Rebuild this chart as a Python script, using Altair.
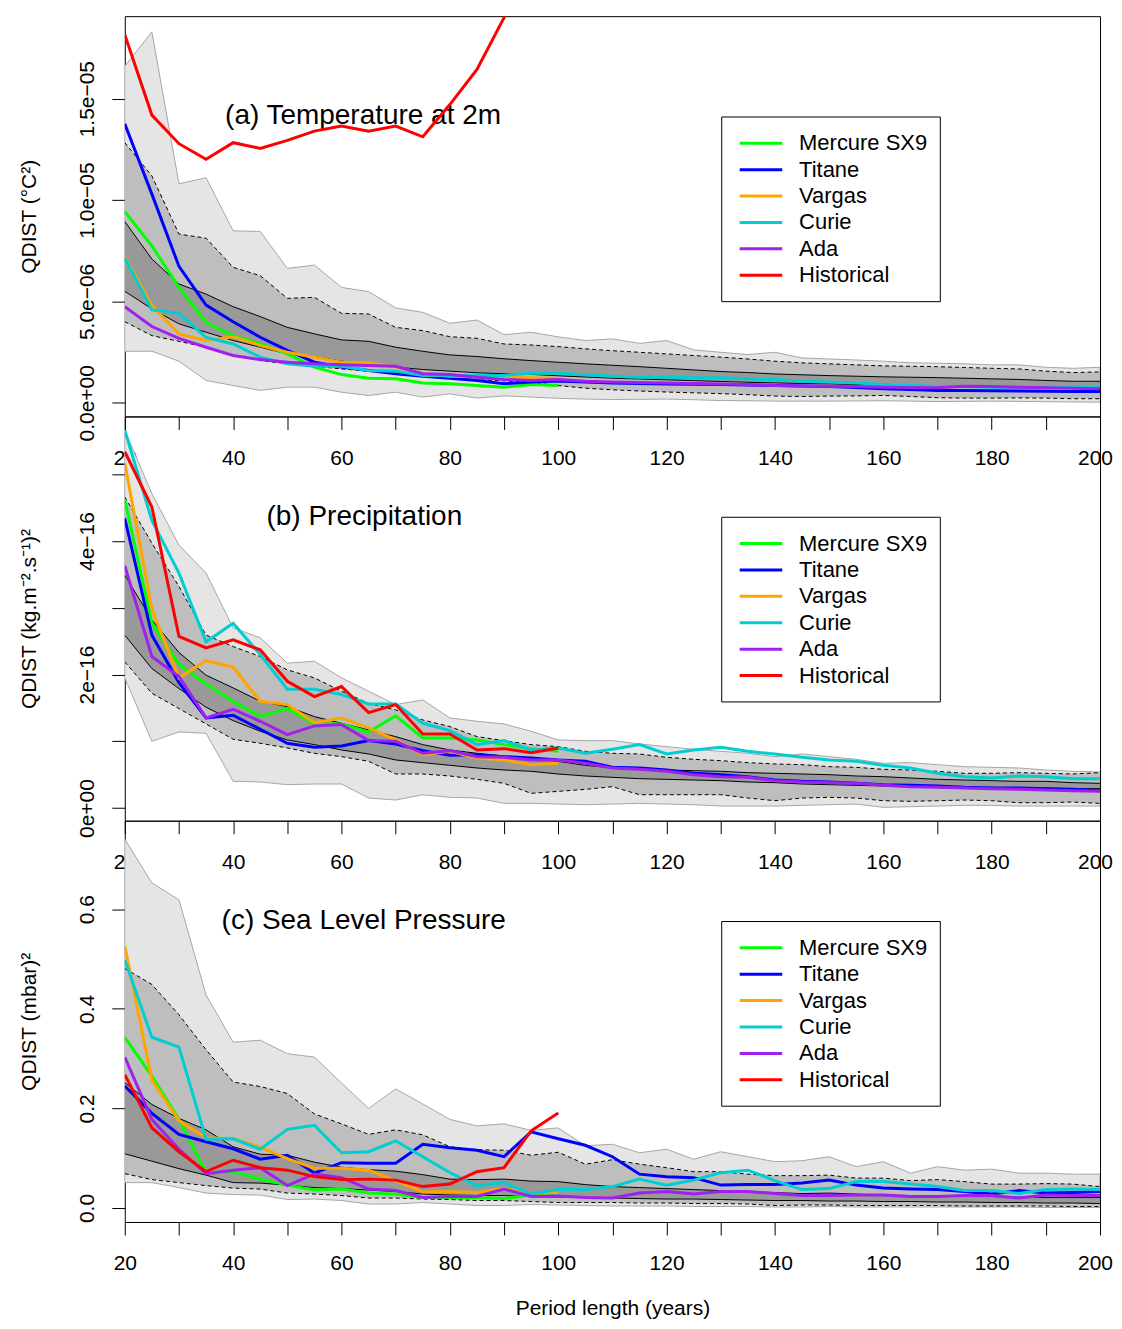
import altair as alt
import pandas as pd

YEARS = list(range(20, 201, 5))
MODELS = ["Mercure SX9", "Titane", "Vargas", "Curie", "Ada", "Historical"]
COLORS = ["#00FF00", "#0000FF", "#FFA500", "#00CED1", "#A020F0", "#FF0000"]

# ---------------- (a) Temperature at 2m  (values in 1e-6 °C²) ----------------
A_LMAX = [16.6, 18.3, 10.8, 11.1, 8.48, 8.45, 6.63, 6.79, 5.69, 5.48, 4.68, 4.46, 3.92, 4.08, 3.36, 3.48,
          3.25, 3.07, 3.15, 2.93, 3.07, 2.61, 2.49, 2.38, 2.49, 2.21, 2.16, 2.11, 2.05, 1.97, 1.95, 1.92,
          1.87, 1.87, 1.75, 1.70, 1.75]
A_DHI = [12.83, 11.19, 8.32, 8.12, 6.68, 6.27, 5.15, 5.2, 4.41, 4.38, 3.72, 3.56, 3.26, 3.18, 2.9, 2.85,
         2.77, 2.66, 2.57, 2.49, 2.41, 2.33, 2.25, 2.16, 2.05, 1.97, 1.92, 1.87, 1.82, 1.80, 1.78, 1.74,
         1.70, 1.67, 1.56, 1.49, 1.52]
A_DKHI = [8.94, 7.09, 5.86, 5.36, 4.74, 4.25, 3.72, 3.40, 3.10, 3.03, 2.74, 2.54, 2.36, 2.28, 2.17, 2.08,
          2.0, 1.92, 1.85, 1.78, 1.70, 1.62, 1.54, 1.49, 1.42, 1.38, 1.34, 1.31, 1.28, 1.26, 1.24, 1.21,
          1.18, 1.15, 1.10, 1.06, 1.06]
A_DKLO = [5.5, 4.63, 3.89, 3.48, 3.07, 2.74, 2.41, 2.28, 2.05, 1.92, 1.76, 1.64, 1.56, 1.48, 1.43, 1.40,
          1.33, 1.27, 1.21, 1.17, 1.13, 1.09, 1.05, 1.01, 0.98, 0.95, 0.93, 0.90, 0.88, 0.86, 0.84, 0.81,
          0.79, 0.77, 0.75, 0.74, 0.74]
A_DLO = [4.0, 3.31, 3.03, 2.74, 2.33, 2.08, 1.92, 1.80, 1.67, 1.56, 1.46, 1.35, 1.21, 1.13, 1.08, 1.0,
         0.85, 0.72, 0.64, 0.58, 0.53, 0.49, 0.45, 0.40, 0.33, 0.31, 0.33, 0.34, 0.36, 0.31, 0.25, 0.23,
         0.23, 0.24, 0.23, 0.2, 0.2]
A_LMIN = [2.54, 2.54, 2.05, 1.10, 0.85, 0.61, 0.77, 0.77, 0.52, 0.36, 0.52, 0.28, 0.44, 0.23, 0.34, 0.28,
          0.22, 0.18, 0.16, 0.17, 0.18, 0.15, 0.11, 0.10, 0.08, 0.08, 0.08, 0.09, 0.10, 0.08, 0.06, 0.07,
          0.08, 0.07, 0.05, 0.04, 0.03]
A_MERCURE = [9.43, 7.74, 5.69, 3.97, 3.31, 2.9, 2.41, 1.76, 1.39, 1.21, 1.18, 0.97, 0.94, 0.85, 0.77, 0.90, 0.85]
A_TITANE = [13.76, 10.29, 6.73, 4.82, 4.0, 3.23, 2.58, 2.0, 1.76, 1.59, 1.43, 1.31, 1.21, 1.10, 0.94, 1.02,
            1.07, 1.02, 0.98, 0.95, 0.93, 0.91, 0.90, 0.88, 0.85, 0.83, 0.80, 0.75, 0.69, 0.65, 0.61, 0.60,
            0.59, 0.58, 0.57, 0.56, 0.56]
A_VARGAS = [7.2, 4.79, 3.40, 3.07, 3.26, 2.82, 2.49, 2.25, 2.0, 1.97, 1.76, 1.43, 1.31, 1.31, 1.26, 1.23, 1.21]
A_CURIE = [7.14, 4.58, 4.41, 3.23, 2.9, 2.25, 1.92, 1.80, 1.80, 1.59, 1.56, 1.35, 1.35, 1.35, 1.35, 1.46,
           1.46, 1.38, 1.31, 1.26, 1.26, 1.23, 1.23, 1.18, 1.15, 1.06, 1.02, 0.97, 0.90, 0.85, 0.80, 0.80,
           0.77, 0.77, 0.77, 0.77, 0.77]
A_ADA = [4.74, 3.76, 3.18, 2.74, 2.33, 2.13, 2.0, 1.92, 1.87, 1.84, 1.80, 1.43, 1.39, 1.26, 1.15, 1.10,
         1.15, 1.06, 1.02, 1.0, 0.98, 0.95, 0.93, 0.90, 0.85, 0.83, 0.82, 0.80, 0.77, 0.75, 0.74, 0.82,
         0.80, 0.77, 0.74, 0.72, 0.69]
A_HIST = [18.16, 14.19, 12.78, 12.01, 12.83, 12.55, 12.94, 13.40, 13.65, 13.40, 13.65, 13.12, 14.71, 16.44,
          19.0, 22.0, 25.0]

# ---------------- (b) Precipitation  (values in 1e-16 (kg.m-2.s-1)²) ----------------
B_LMAX = [5.66, 4.71, 3.94, 3.52, 2.7, 2.55, 2.17, 2.2, 1.95, 1.75, 1.55, 1.62, 1.35, 1.30, 1.26, 1.15,
          1.02, 1.01, 1.01, 0.96, 0.92, 0.88, 0.85, 0.82, 0.77, 0.81, 0.77, 0.73, 0.67, 0.68, 0.65, 0.62,
          0.61, 0.60, 0.57, 0.55, 0.54]
B_DHI = [4.66, 3.97, 3.32, 2.59, 2.42, 2.27, 2.07, 1.95, 1.75, 1.57, 1.47, 1.32, 1.22, 1.07, 1.01, 0.95,
         0.92, 0.85, 0.82, 0.81, 0.76, 0.73, 0.71, 0.68, 0.66, 0.65, 0.62, 0.61, 0.58, 0.57, 0.55, 0.52,
         0.52, 0.53, 0.52, 0.51, 0.53]
B_DKHI = [3.49, 2.82, 2.33, 1.99, 1.80, 1.60, 1.52, 1.37, 1.27, 1.17, 1.07, 0.95, 0.87, 0.82, 0.78, 0.75,
          0.70, 0.64, 0.60, 0.58, 0.57, 0.56, 0.55, 0.53, 0.52, 0.51, 0.50, 0.48, 0.47, 0.45, 0.43, 0.42,
          0.41, 0.40, 0.40, 0.38, 0.37]
B_DKLO = [2.59, 2.09, 1.79, 1.51, 1.31, 1.15, 1.02, 0.95, 0.87, 0.81, 0.72, 0.68, 0.64, 0.60, 0.57, 0.55,
          0.51, 0.48, 0.46, 0.44, 0.43, 0.42, 0.41, 0.39, 0.38, 0.36, 0.35, 0.34, 0.33, 0.32, 0.32, 0.31,
          0.31, 0.30, 0.30, 0.29, 0.29]
B_DLO = [2.19, 1.72, 1.49, 1.26, 1.03, 0.97, 0.90, 0.82, 0.77, 0.70, 0.51, 0.51, 0.48, 0.43, 0.37, 0.22,
         0.25, 0.28, 0.32, 0.20, 0.20, 0.20, 0.20, 0.15, 0.11, 0.15, 0.16, 0.15, 0.11, 0.10, 0.11, 0.12,
         0.11, 0.08, 0.08, 0.09, 0.07]
B_LMIN = [1.95, 1.0, 1.14, 1.12, 0.40, 0.39, 0.35, 0.36, 0.36, 0.15, 0.12, 0.2, 0.16, 0.15, 0.07, 0.07,
          0.06, 0.05, 0.06, 0.07, 0.06, 0.05, 0.03, 0.03, 0.03, 0.04, 0.05, 0.06, 0.01, 0.02, 0.03, 0.04,
          0.04, 0.03, 0.03, 0.03, 0.03]
B_MERCURE = [4.62, 2.77, 2.15, 1.86, 1.60, 1.37, 1.49, 1.26, 1.26, 1.14, 1.38, 1.05, 1.05, 1.02, 0.95, 0.89, 0.85]
B_TITANE = [4.34, 2.59, 1.88, 1.35, 1.39, 1.18, 0.97, 0.91, 0.93, 1.01, 0.96, 0.86, 0.79, 0.80, 0.77, 0.75,
            0.72, 0.70, 0.61, 0.60, 0.57, 0.52, 0.50, 0.47, 0.42, 0.40, 0.39, 0.37, 0.35, 0.34, 0.33, 0.31,
            0.30, 0.30, 0.29, 0.28, 0.26]
B_VARGAS = [5.17, 2.98, 1.95, 2.21, 2.11, 1.60, 1.55, 1.28, 1.35, 1.20, 1.02, 0.80, 0.85, 0.75, 0.72, 0.65, 0.67]
B_CURIE = [5.66, 4.31, 3.52, 2.49, 2.77, 2.30, 1.78, 1.78, 1.70, 1.56, 1.56, 1.27, 1.16, 0.95, 1.01, 0.87,
           0.90, 0.82, 0.88, 0.95, 0.81, 0.87, 0.91, 0.85, 0.81, 0.76, 0.72, 0.70, 0.64, 0.60, 0.52, 0.47,
           0.45, 0.48, 0.47, 0.44, 0.44]
B_ADA = [3.63, 2.27, 1.97, 1.35, 1.48, 1.30, 1.10, 1.23, 1.25, 1.01, 1.0, 0.82, 0.86, 0.77, 0.76, 0.72,
         0.72, 0.67, 0.60, 0.58, 0.55, 0.50, 0.47, 0.46, 0.41, 0.39, 0.38, 0.37, 0.34, 0.32, 0.31, 0.30,
         0.29, 0.28, 0.27, 0.26, 0.25]
B_HIST = [5.34, 4.51, 2.57, 2.40, 2.52, 2.37, 1.90, 1.67, 1.82, 1.43, 1.55, 1.11, 1.11, 0.87, 0.89, 0.83, 0.90]

# ---------------- (c) Sea Level Pressure  (values in mbar²) ----------------
C_LMAX = [0.741, 0.653, 0.619, 0.428, 0.333, 0.337, 0.31, 0.303, 0.251, 0.200, 0.239, 0.209, 0.178, 0.165,
          0.169, 0.156, 0.161, 0.125, 0.128, 0.111, 0.118, 0.098, 0.113, 0.103, 0.093, 0.095, 0.103, 0.083,
          0.093, 0.07, 0.083, 0.076, 0.078, 0.07, 0.07, 0.068, 0.068]
C_DHI = [0.481, 0.449, 0.388, 0.318, 0.253, 0.244, 0.23, 0.189, 0.169, 0.148, 0.157, 0.147, 0.123, 0.117,
         0.116, 0.106, 0.112, 0.088, 0.097, 0.088, 0.081, 0.073, 0.073, 0.068, 0.065, 0.065, 0.066, 0.06,
         0.06, 0.055, 0.057, 0.053, 0.048, 0.048, 0.049, 0.048, 0.043]
C_DKHI = [0.252, 0.208, 0.18, 0.157, 0.123, 0.108, 0.106, 0.092, 0.082, 0.077, 0.074, 0.067, 0.058, 0.057,
          0.058, 0.054, 0.053, 0.047, 0.043, 0.041, 0.039, 0.037, 0.035, 0.033, 0.031, 0.029, 0.03, 0.028,
          0.026, 0.025, 0.025, 0.023, 0.023, 0.022, 0.021, 0.021, 0.021]
C_DKLO = [0.109, 0.094, 0.079, 0.066, 0.051, 0.05, 0.046, 0.041, 0.039, 0.036, 0.033, 0.028, 0.026, 0.025,
          0.025, 0.023, 0.022, 0.021, 0.02, 0.019, 0.018, 0.018, 0.017, 0.016, 0.015, 0.015, 0.014, 0.014,
          0.013, 0.013, 0.012, 0.012, 0.011, 0.011, 0.01, 0.01, 0.009]
C_DLO = [0.069, 0.057, 0.051, 0.045, 0.04, 0.038, 0.03, 0.028, 0.025, 0.02, 0.02, 0.018, 0.017, 0.015,
         0.015, 0.013, 0.011, 0.011, 0.011, 0.01, 0.01, 0.009, 0.009, 0.008, 0.005, 0.006, 0.006, 0.005,
         0.005, 0.005, 0.005, 0.004, 0.004, 0.004, 0.004, 0.003, 0.003]
C_LMIN = [0.051, 0.051, 0.041, 0.03, 0.027, 0.026, 0.017, 0.018, 0.015, 0.008, 0.008, 0.011, 0.008, 0.005,
          0.005, 0.007, 0.006, 0.005, 0.004, 0.004, 0.004, 0.003, 0.003, 0.003, 0.002, 0.002, 0.003, 0.002,
          0.002, 0.002, 0.002, 0.002, 0.002, 0.002, 0.001, 0.001, 0.001]
C_MERCURE = [0.343, 0.265, 0.178, 0.071, 0.073, 0.058, 0.046, 0.036, 0.038, 0.03, 0.028, 0.021, 0.021,
             0.021, 0.019, 0.026, 0.028]
C_TITANE = [0.245, 0.19, 0.148, 0.133, 0.119, 0.098, 0.106, 0.07, 0.091, 0.09, 0.09, 0.128, 0.121, 0.116,
            0.103, 0.153, 0.139, 0.126, 0.103, 0.068, 0.063, 0.061, 0.046, 0.047, 0.047, 0.05, 0.056, 0.046,
            0.04, 0.038, 0.037, 0.033, 0.028, 0.035, 0.03, 0.031, 0.033]
C_VARGAS = [0.526, 0.257, 0.175, 0.141, 0.139, 0.122, 0.099, 0.08, 0.08, 0.076, 0.055, 0.032, 0.033, 0.031,
            0.039, 0.029, 0.031]
C_CURIE = [0.498, 0.343, 0.323, 0.138, 0.139, 0.118, 0.158, 0.166, 0.111, 0.113, 0.135, 0.103, 0.071, 0.045,
           0.051, 0.028, 0.037, 0.037, 0.043, 0.058, 0.046, 0.056, 0.071, 0.076, 0.055, 0.037, 0.039, 0.053,
           0.053, 0.048, 0.043, 0.035, 0.035, 0.029, 0.037, 0.038, 0.037]
C_ADA = [0.303, 0.178, 0.118, 0.069, 0.076, 0.081, 0.045, 0.068, 0.061, 0.038, 0.035, 0.021, 0.023, 0.023,
         0.038, 0.023, 0.024, 0.021, 0.02, 0.03, 0.033, 0.028, 0.033, 0.033, 0.029, 0.025, 0.025, 0.026,
         0.026, 0.023, 0.023, 0.025, 0.025, 0.02, 0.026, 0.025, 0.025]
C_HIST = [0.268, 0.161, 0.113, 0.073, 0.096, 0.081, 0.076, 0.063, 0.057, 0.058, 0.056, 0.043, 0.048, 0.073,
          0.081, 0.155, 0.191]

# ---------------- styling / layout ----------------
FONT = "Liberation Sans"
W = 977
X_TICKS = list(range(20, 201, 10))
LIGHT, MID, DARK, OUTLINE = "#E5E5E5", "#BEBEBE", "#999999", "#A6A6A6"
LEG_BOX = (598, 817, 101, 286)
LEG_SYM = (616, 658.6)
LEG_TEXT_X = 675.5
LEG_Y0, LEG_DY = 127.3, 26.45
TITLE_Y = 100.3


def pad(values):
    return list(values) + [None] * (len(YEARS) - len(values))


def make_panel(bands, series, height, ydom, yvals, ylab, ytitle, ptitle, ptitle_x, xtitle):
    df = pd.DataFrame({"year": YEARS})
    for key, vals in bands.items():
        df[key] = vals
    for i, vals in enumerate(series):
        df[f"s{i}"] = pad(vals)

    xaxis_kw = dict(values=X_TICKS, labelExpr="datum.value % 20 == 0 ? datum.label : ''",
                    tickSize=13, labelPadding=18, labelFlush=False, labelOverlap=False,
                    labelOffset={"condition": {"test": "datum.value == 200", "value": -5}, "value": 0})
    if xtitle:
        xaxis_kw.update(title=xtitle, titleY=93, titleBaseline="alphabetic")
    else:
        xaxis_kw.update(title=None)
    xenc = alt.X("year:Q", scale=alt.Scale(domain=[20, 200], nice=False, zero=False),
                 axis=alt.Axis(**xaxis_kw))
    yscale = alt.Scale(domain=ydom, nice=False, zero=False)
    yaxis = alt.Axis(values=yvals, labelExpr=ylab, tickSize=13, labelAngle=270, labelAlign="center",
                     labelBaseline="alphabetic", labelPadding=18, labelFlush=False, labelOverlap=False,
                     title=ytitle, titleAngle=270, titleAlign="center", titleBaseline="alphabetic",
                     titleX=-89, titleY=height / 2)

    def Y(col):
        return alt.Y(f"{col}:Q", scale=yscale, axis=yaxis)

    base = alt.Chart(df)
    layers = [
        base.mark_area(fill=LIGHT, stroke=OUTLINE, strokeWidth=1, opacity=1, clip=True)
            .encode(x=xenc, y=Y("lmax"), y2="lmin:Q"),
        base.mark_area(fill=MID, opacity=1, clip=True).encode(x=xenc, y=Y("dhi"), y2="dlo:Q"),
        base.mark_area(fill=DARK, opacity=1, clip=True).encode(x=xenc, y=Y("dkhi"), y2="dklo:Q"),
    ]
    for col in ["dhi", "dlo"]:
        layers.append(base.mark_line(color="black", strokeWidth=1, strokeDash=[4, 3], clip=True)
                      .encode(x=xenc, y=Y(col)))
    for col in ["dkhi", "dklo"]:
        layers.append(base.mark_line(color="black", strokeWidth=1, clip=True).encode(x=xenc, y=Y(col)))

    one = pd.DataFrame({"t": [ptitle]})
    layers.append(alt.Chart(one).mark_text(align="left", baseline="middle", font=FONT, fontSize=28,
                                           color="black")
                  .encode(x=alt.value(ptitle_x), y=alt.value(TITLE_Y), text="t:N"))

    for i, color in enumerate(COLORS):
        layers.append(base.mark_line(color=color, strokeWidth=3, clip=True).encode(x=xenc, y=Y(f"s{i}")))

    layers.append(alt.Chart(one).mark_rect(fill="white", stroke="black", strokeWidth=1)
                  .encode(x=alt.value(LEG_BOX[0]), x2=alt.value(LEG_BOX[1]),
                          y=alt.value(LEG_BOX[2]), y2=alt.value(LEG_BOX[3])))
    leg = pd.DataFrame({"model": MODELS, "color": COLORS,
                        "ly": [LEG_Y0 + i * LEG_DY for i in range(len(MODELS))]})
    layers.append(alt.Chart(leg).mark_rule(strokeWidth=3)
                  .encode(x=alt.value(LEG_SYM[0]), x2=alt.value(LEG_SYM[1]),
                          y=alt.Y("ly:Q", scale=None, axis=None),
                          color=alt.Color("color:N", scale=None, legend=None)))
    layers.append(alt.Chart(leg).mark_text(align="left", baseline="middle", font=FONT, fontSize=22,
                                           color="black")
                  .encode(x=alt.value(LEG_TEXT_X), y=alt.Y("ly:Q", scale=None, axis=None),
                          text="model:N"))
    return alt.layer(*layers).properties(width=W, height=height)


panel_a = make_panel(
    {"lmax": A_LMAX, "dhi": A_DHI, "dkhi": A_DKHI, "dklo": A_DKLO, "dlo": A_DLO, "lmin": A_LMIN},
    [A_MERCURE, A_TITANE, A_VARGAS, A_CURIE, A_ADA, A_HIST],
    401, [-0.675, 19.07], [0, 5, 10, 15],
    "datum.value == 0 ? '0.0e+00' : datum.value == 5 ? '5.0e\u221206' : datum.value == 10 ? '1.0e\u221205' : '1.5e\u221205'",
    "QDIST (\u00b0C\u00b2)", "(a) Temperature at 2m", 100.5, None)

panel_b = make_panel(
    {"lmax": B_LMAX, "dhi": B_DHI, "dkhi": B_DKHI, "dklo": B_DKLO, "dlo": B_DLO, "lmin": B_LMIN},
    [B_MERCURE, B_TITANE, B_VARGAS, B_CURIE, B_ADA, B_HIST],
    405, [-0.19, 5.867], [0, 1, 2, 3, 4, 5],
    "datum.value == 0 ? '0e+00' : datum.value == 2 ? '2e\u221216' : datum.value == 4 ? '4e\u221216' : ''",
    "QDIST (kg.m\u207b\u00b2.s\u207b\u00b9)\u00b2", "(b) Precipitation", 142, None)

panel_c = make_panel(
    {"lmax": C_LMAX, "dhi": C_DHI, "dkhi": C_DKHI, "dklo": C_DKLO, "dlo": C_DLO, "lmin": C_LMIN},
    [C_MERCURE, C_TITANE, C_VARGAS, C_CURIE, C_ADA, C_HIST],
    402, [-0.0281, 0.7779], [0, 0.2, 0.4, 0.6],
    "format(datum.value, '.1f')",
    "QDIST (mbar)\u00b2", "(c) Sea Level Pressure", 97, "Period length (years)")

chart = (
    alt.vconcat(panel_a, panel_b, panel_c, spacing=0, bounds="flush")
    .properties(padding={"left": 10, "top": 6, "right": 0, "bottom": 0}, background="white")
    .configure_view(stroke="black", strokeWidth=1)
    .configure_axis(labelFont=FONT, labelFontSize=21, labelColor="black", tickColor="black",
                    tickWidth=1, grid=False, domain=False, titleFont=FONT, titleFontSize=21,
                    titleFontWeight="normal", titleColor="black")
)

chart.save("out.html", embed_options={"renderer": "svg", "actions": False})
